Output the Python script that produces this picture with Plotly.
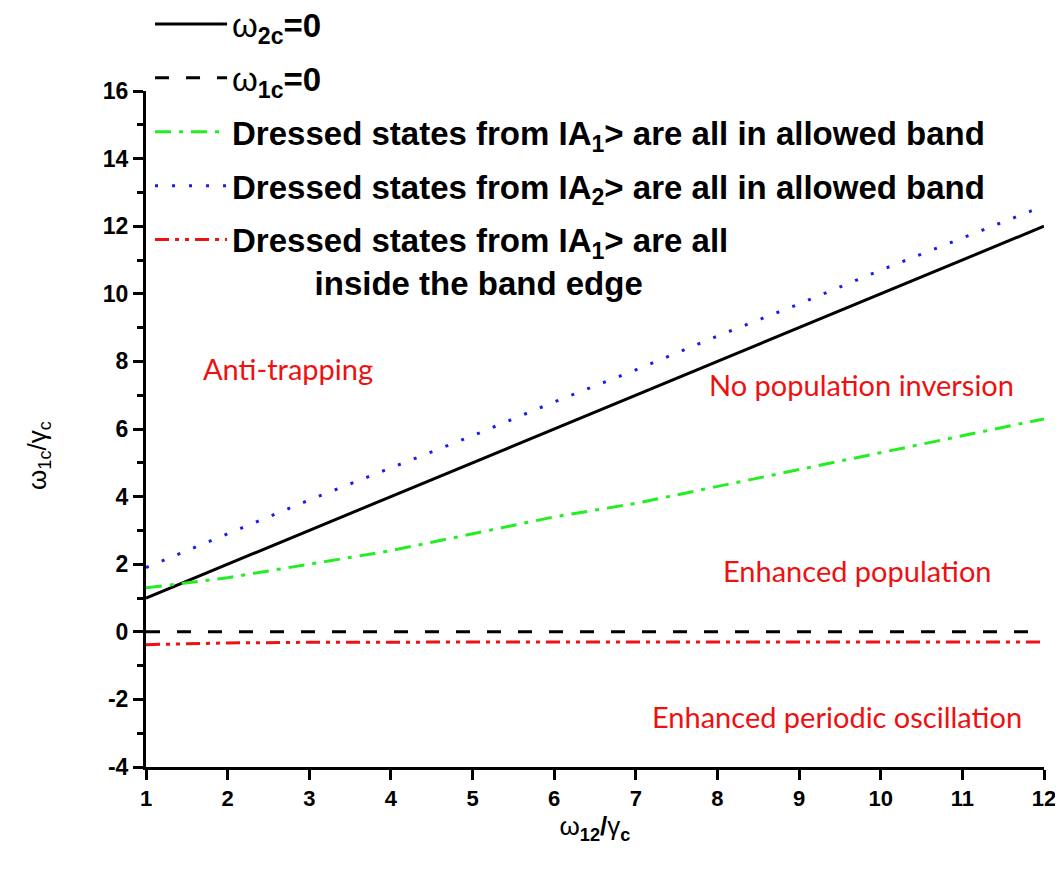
import plotly.graph_objects as go

# Data
x_vals = [1, 2, 3, 4, 5, 6, 7, 8, 9, 10, 11, 12]
w2c_zero = [1, 2, 3, 4, 5, 6, 7, 8, 9, 10, 11, 12]
w1c_zero = [0, 0, 0, 0, 0, 0, 0, 0, 0, 0, 0, 0]
green_A1 = [1.3, 1.6, 2.0, 2.4, 2.9, 3.4, 3.8, 4.3, 4.8, 5.3, 5.8, 6.3]
blue_A2 = [1.9, 2.9, 3.9, 4.85, 5.8, 6.8, 7.75, 8.75, 9.7, 10.7, 11.65, 12.6]
red_edge = [-0.38, -0.33, -0.31, -0.3, -0.3, -0.3, -0.3, -0.3, -0.3, -0.3, -0.3, -0.3]

region_labels = ["Anti-trapping", "No population inversion", "Enhanced population",
                 "Enhanced periodic oscillation"]
region_x = [2.74, 9.77, 9.71, 9.46]
region_y = [7.78, 7.31, 1.80, -2.51]

x_ticks = list(range(1, 13))
y_ticks = list(range(-4, 17, 2))

NB = "\u00a0"
names = [
    "ω<sub><b>2c</b></sub><b>=0</b>",
    "ω<sub><b>1c</b></sub><b>=0</b>",
    "<b>Dressed states from IA<sub>1</sub>> are all in allowed band</b>",
    "<b>Dressed states from IA<sub>2</sub>> are all in allowed band</b>",
    "<b>Dressed states from IA<sub>1</sub>> are all</b><br>" + NB * 9 + "<b>inside the band edge</b>",
]

fig = go.Figure()
fig.add_trace(go.Scatter(x=x_vals, y=w2c_zero, mode="lines", name=names[0], legendgroup="a",
                         line=dict(color="black", width=3)))
fig.add_trace(go.Scatter(x=x_vals, y=w1c_zero, mode="lines", name=names[1], legendgroup="b",
                         line=dict(color="black", width=3, dash="14px,17px")))
fig.add_trace(go.Scatter(x=x_vals, y=green_A1, mode="lines", name=names[2], legendgroup="c",
                         line=dict(color="#22ee22", width=3, dash="16px,8px,4px,8px")))
fig.add_trace(go.Scatter(x=x_vals, y=blue_A2, mode="lines", name=names[3], legendgroup="d",
                         line=dict(color="#1a1aee", width=3, dash="3px,14px")))
fig.add_trace(go.Scatter(x=x_vals, y=red_edge, mode="lines", name=names[4], legendgroup="e",
                         line=dict(color="#ee1111", width=3, dash="14px,6px,4px,6px,4px,6px")))

for t, xx, yy in zip(region_labels, region_x, region_y):
    fig.add_annotation(x=xx, y=yy, text=t, showarrow=False, xref="x", yref="y",
                       font=dict(family="Lato, Open Sans, sans-serif", size=29, color="#ee1111"))

# y-axis title
fig.add_annotation(x=-0.1203, y=0.4615, xref="paper", yref="paper", showarrow=False,
                   text="ω<sub>1c</sub>/γ<sub>c</sub>", textangle=-90,
                   xanchor="center", yanchor="middle",
                   font=dict(family="Liberation Sans, sans-serif", size=26, color="black"))

fig.update_layout(
    width=1055, height=866,
    margin=dict(l=138, r=19, t=83, b=107, autoexpand=False),
    paper_bgcolor="white", plot_bgcolor="white",
    showlegend=True,
    legend=dict(
        x=0.0045, y=1.1405, xanchor="left", yanchor="top",
        bgcolor="rgba(0,0,0,0)", tracegroupgap=8, valign="top", itemwidth=72,
        font=dict(family="Liberation Sans, Arial, sans-serif", size=33, color="black"),
    ),
    xaxis=dict(
        range=[1, 12], tickvals=x_ticks, ticktext=[str(v) for v in x_ticks],
        showgrid=False, zeroline=False, showline=True, linecolor="black", linewidth=3,
        ticks="outside", ticklen=10, tickwidth=3, tickcolor="black", automargin=False,
        tickfont=dict(family="Liberation Sans Narrow, Liberation Sans, sans-serif", size=22,
                      color="black", weight="bold"),
        title=dict(text="ω<sub><b>12</b></sub><b>/</b>γ<sub><b>c</b></sub>", standoff=5,
                   font=dict(family="Liberation Sans, sans-serif", size=26, color="black")),
    ),
    yaxis=dict(
        range=[-4, 16], tickvals=y_ticks, ticktext=[str(v) for v in y_ticks],
        showgrid=False, zeroline=False, showline=True, linecolor="black", linewidth=3,
        ticks="outside", ticklen=10, tickwidth=3, tickcolor="black", automargin=False,
        minor=dict(dtick=1, ticks="outside", ticklen=6, tickwidth=3, tickcolor="black", showgrid=False),
        tickfont=dict(family="Liberation Sans, Arial, sans-serif", size=23, color="black", weight="bold"),
    ),
)

fig.write_html("out.html")
